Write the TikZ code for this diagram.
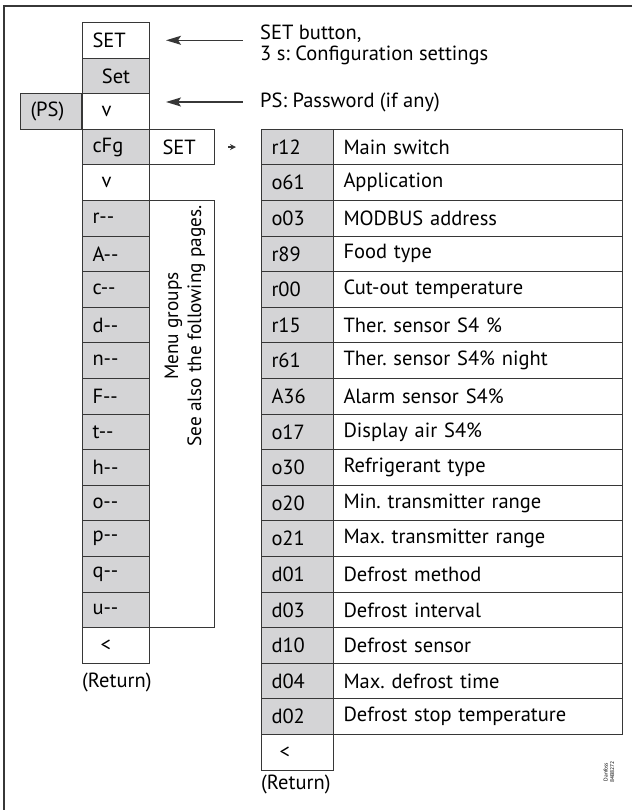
\documentclass[tikz,border=0pt]{standalone}
\usepackage{fontspec}
\setmainfont{PT Sans}
\usetikzlibrary{arrows.meta}

\definecolor{keygray}{RGB}{212,212,214}
\definecolor{rulegray}{RGB}{55,55,55}

\begin{document}
\frenchspacing
\begin{tikzpicture}[
    x=1pt, y=-1pt,
    >={Stealth[length=15pt,width=9pt,inset=3pt]},
    cell/.style={
        rectangle,
        draw=rulegray,
        line width=1pt,
        anchor=north west,
        minimum height=35.6pt,
        inner xsep=10pt,
        inner ysep=0pt,
        align=left,
        font=\fontsize{20.5}{24}\selectfont
    },
    menu/.style={cell, minimum width=67pt, text width=47pt},
    menukey/.style={menu, fill=keygray},
    code/.style={cell, fill=keygray, minimum width=72pt, text width=52pt},
    descr/.style={cell, minimum width=289pt, text width=269pt},
    note/.style={
        font=\fontsize{20.5}{21}\selectfont,
        align=left,
        anchor=west,
        inner sep=0pt
    },
    pointer/.style={<-, line width=1.2pt, draw=rulegray, shorten <=16pt, shorten >=17pt}
]
\useasboundingbox (0,0) rectangle (632,810);

% Frame
\draw[line width=1.5pt, rulegray] (632,6) -- (4,6) -- (4,810);

% Main menu column
\node[menu] (set) at (82,22) {SET};
\node[menukey, align=center] (setdisp) at (82,57.6) {Set};
\node[menu] (down1) at (82,93.2) {\hspace*{9pt}v};
\node[menukey] (cfg) at (82,128.8) {cFg};
\node[menu] (down2) at (82,164.4) {\hspace*{9pt}v};
\node[menukey] (grpr) at (82,200) {r-{}-};
\node[menukey] (grpA) at (82,235.6) {A-{}-};
\node[menukey] (grpc) at (82,271.2) {c-{}-};
\node[menukey] (grpd) at (82,306.8) {d-{}-};
\node[menukey] (grpn) at (82,342.4) {n-{}-};
\node[menukey] (grpF) at (82,378) {F-{}-};
\node[menukey] (grpt) at (82,413.6) {t-{}-};
\node[menukey] (grph) at (82,449.2) {h-{}-};
\node[menukey] (grpo) at (82,484.8) {o-{}-};
\node[menukey] (grpp) at (82,520.4) {p-{}-};
\node[menukey] (grpq) at (82,556) {q-{}-};
\node[menukey] (grpu) at (82,591.6) {u-{}-};
\node[menu] (back1) at (82,627.2) {\hspace*{8pt}<};
\node[note] (ret1) at (82,682) {(Return)};

% Password and SET beside the column
\node[cell, fill=keygray, anchor=north east, minimum width=61pt, text width=41pt] (ps) at (82,93.2) {(PS)};
\node[cell, minimum width=65pt, text width=45pt] (cfgset) at (149,128.8) {\hspace*{3pt}SET};

% Menu groups box
\node[rectangle, draw=rulegray, line width=1pt, anchor=north west, minimum width=65pt, minimum height=427.2pt, inner sep=0pt] (grpbox) at (149,200) {};
\node[rotate=90, align=center, inner sep=0pt, font=\fontsize{19.3}{23}\selectfont] (grptext) at (185,326) {Menu groups\\See also the following pages.};

% Notes on the right
\node[note] (setnote) at (260,45) {SET button,\\3 s: Configuration settings};
\node[note] (psnote) at (260,102) {PS: Password (if any)};
\draw[pointer] (set.east) -- (set.east -| setnote.west);
\draw[pointer] (down1.east |- psnote.west) -- (psnote.west);

% Configuration list
\node[code] (r12) at (261,128.8) {r12};
\node[descr] (r12d) at (333,128.8) {Main switch};
\node[code] (o61) at (261,164.4) {o61};
\node[descr] (o61d) at (333,164.4) {Application};
\node[code] (o03) at (261,200) {o03};
\node[descr] (o03d) at (333,200) {MODBUS address};
\node[code] (r89) at (261,235.6) {r89};
\node[descr] (r89d) at (333,235.6) {Food type};
\node[code] (r00) at (261,271.2) {r00};
\node[descr] (r00d) at (333,271.2) {Cut-out temperature};
\node[code] (r15) at (261,306.8) {r15};
\node[descr] (r15d) at (333,306.8) {Ther. sensor S4 \%};
\node[code] (r61) at (261,342.4) {r61};
\node[descr] (r61d) at (333,342.4) {Ther. sensor S4\% night};
\node[code] (A36) at (261,378) {A36};
\node[descr] (A36d) at (333,378) {Alarm sensor S4\%};
\node[code] (o17) at (261,413.6) {o17};
\node[descr] (o17d) at (333,413.6) {Display air S4\%};
\node[code] (o30) at (261,449.2) {o30};
\node[descr] (o30d) at (333,449.2) {Refrigerant type};
\node[code] (o20) at (261,484.8) {o20};
\node[descr] (o20d) at (333,484.8) {Min. transmitter range};
\node[code] (o21) at (261,520.4) {o21};
\node[descr] (o21d) at (333,520.4) {Max. transmitter range};
\node[code] (d01) at (261,556) {d01};
\node[descr] (d01d) at (333,556) {Defrost method};
\node[code] (d03) at (261,591.6) {d03};
\node[descr] (d03d) at (333,591.6) {Defrost interval};
\node[code] (d10) at (261,627.2) {d10};
\node[descr] (d10d) at (333,627.2) {Defrost sensor};
\node[code] (d04) at (261,662.8) {d04};
\node[descr] (d04d) at (333,662.8) {Max. defrost time};
\node[code] (d02) at (261,698.4) {d02};
\node[descr] (d02d) at (333,698.4) {Defrost stop temperature};
\node[cell, minimum width=72pt, text width=52pt] (back2) at (261,734) {\hspace*{8pt}<};
\node[note] (ret2) at (261,784) {(Return)};
\draw[->, >={Stealth[length=6pt,width=6pt]}, line width=1.5pt, rulegray, shorten <=13pt, shorten >=25pt] (cfgset) -- (r12);

% Drawing number
\node[rotate=90, align=center, inner sep=0pt, font=\fontsize{5.5}{6.5}\selectfont] (docid) at (609,772) {Danfoss\\84B8272};

\end{tikzpicture}
\end{document}
